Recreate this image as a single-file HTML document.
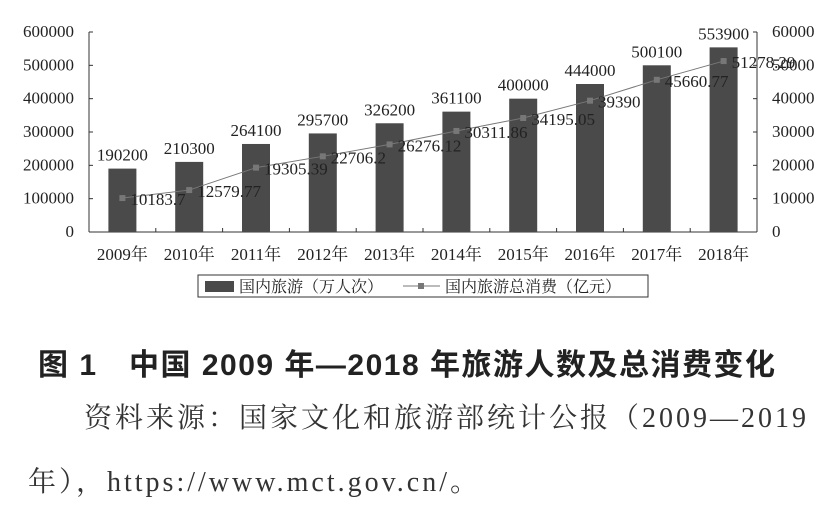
<!DOCTYPE html>
<html><head><meta charset="utf-8"><style>
body{margin:0;background:#fff;width:832px;height:508px;overflow:hidden;position:relative}
svg{position:absolute;left:0;top:0}
.cap{position:absolute;left:38px;top:340px;white-space:nowrap;font:bold 30px "Liberation Sans","Noto Sans CJK SC",sans-serif;color:#222;letter-spacing:1.5px}
.src{position:absolute;left:0;font:28px "Liberation Serif","Noto Serif CJK SC",serif;color:#333;white-space:nowrap;letter-spacing:3px}
</style></head><body>
<svg width="832" height="330" font-family="Liberation Serif, Noto Serif CJK SC, serif">
<g id="g"></g>
</svg>
<div class="cap">图 1　中国 2009 年—2018 年旅游人数及总消费变化</div>
<div class="src" style="top:396px;left:84px">资料来源：国家文化和旅游部统计公报（2009—2019</div>
<div class="src" style="top:460px;left:28px">年），https://www.mct.gov.cn/。</div>
<script>
const categories=["2009年","2010年","2011年","2012年","2013年","2014年","2015年","2016年","2017年","2018年"];
const tourists=[190200,210300,264100,295700,326200,361100,400000,444000,500100,553900];
const spending=[10183.7,12579.77,19305.39,22706.2,26276.12,30311.86,34195.05,39390,45660.77,51278.29];
const spendLabels=["10183.7","12579.77","19305.39","22706.2","26276.12","30311.86","34195.05","39390","45660.77","51278.29"];
const leftTicks=[0,100000,200000,300000,400000,500000,600000];
const rightTicks=[0,10000,20000,30000,40000,50000,60000];
const L=89,R=757,Y0=232,Y1=32;
const g=document.getElementById('g');const NS='http://www.w3.org/2000/svg';
function yl(v){return Y0-(v/600000)*(Y0-Y1)}
function yr(v){return Y0-(v/60000)*(Y0-Y1)}
const bw=(R-L)/categories.length;
function xc(i){return L+bw*(i+0.5)}
function mk(t,a,txt){const e=document.createElementNS(NS,t);for(const k in a)e.setAttribute(k,a[k]);if(txt!==undefined)e.textContent=txt;g.appendChild(e);return e}
let e;
e=mk('line',{x1:L,y1:Y1,x2:L,y2:Y0,stroke:'#333'});


e=mk('line',{x1:R,y1:Y1,x2:R,y2:Y0,stroke:'#333'});


e=mk('line',{x1:L,y1:Y0,x2:R,y2:Y0,stroke:'#333'});


leftTicks.forEach(v=>{mk('line',{x1:L,y1:yl(v),x2:L+4,y2:yl(v),stroke:'#333'});
e=mk('text',{x:L-15,y:yl(v)+5,'text-anchor':'end','font-size':17,fill:'#222'},String(v));

});
rightTicks.forEach(v=>{mk('line',{x1:R-4,y1:yr(v),x2:R,y2:yr(v),stroke:'#333'});
e=mk('text',{x:R+15,y:yr(v)+5,'text-anchor':'start','font-size':17,fill:'#222'},String(v));

});
for(let i=1;i<categories.length;i++)mk('line',{x1:L+bw*i,y1:Y0,x2:L+bw*i,y2:Y0-4,stroke:'#333'});
categories.forEach((c,i)=>{
e=mk('rect',{x:xc(i)-14,y:yl(tourists[i]),width:28,height:Y0-yl(tourists[i]),fill:'#4a4a4a'});


e=mk('text',{x:xc(i),y:yl(tourists[i])-8,'text-anchor':'middle','font-size':17,fill:'#222'},String(tourists[i]));


e=mk('text',{x:xc(i),y:Y0+28,'text-anchor':'middle','font-size':17,fill:'#222'},c);


});
e=mk('polyline',{points:spending.map((v,i)=>xc(i)+','+yr(v)).join(' '),fill:'none',stroke:'#777','stroke-width':1});


spending.forEach((v,i)=>{
e=mk('rect',{x:xc(i)-3,y:yr(v)-3,width:6,height:6,fill:'#777'});


e=mk('text',{x:xc(i)+8,y:yr(v)+7,'font-size':17,fill:'#222'},spendLabels[i]);


});
e=mk('rect',{x:198,y:275,width:450,height:22,fill:'none',stroke:'#333'});


e=mk('rect',{x:205,y:281,width:29,height:11,fill:'#4a4a4a'});


e=mk('text',{x:239,y:292,'font-size':16,fill:'#222'},'国内旅游（万人次）');


mk('line',{x1:403,y1:286,x2:440,y2:286,stroke:'#777'});
e=mk('rect',{x:418,y:283,width:6,height:6,fill:'#777'});


e=mk('text',{x:445,y:292,'font-size':16,fill:'#222'},'国内旅游总消费（亿元）');


</script>
</body></html>
